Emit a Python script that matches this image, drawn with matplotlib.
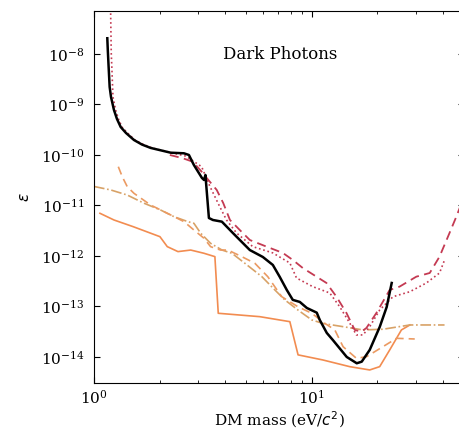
import matplotlib
matplotlib.use("Agg")
import matplotlib.pyplot as plt
import numpy as np

# ---- data ----
black_m = [1.151, 1.157, 1.166, 1.180, 1.197, 1.235, 1.275, 1.326, 1.402, 1.526, 1.660, 1.820, 2.249, 2.587,
           2.728, 2.875, 3.13, 3.20, 3.248, 3.37, 3.515, 3.865, 4.342, 4.674, 5.195, 5.96, 6.625, 7.13, 7.68,
           8.18, 8.81, 9.49, 10.54, 10.88, 11.72, 12.49, 14.47, 16.09, 16.96, 18.45, 20.51, 22.08, 23.28]
black_e = [2.05e-8, 1.2e-8, 6.05e-9, 2.22e-9, 1.41e-9, 7.78e-10, 5.16e-10, 3.58e-10, 2.73e-10, 1.98e-10,
           1.61e-10, 1.38e-10, 1.11e-10, 1.08e-10, 1.0e-10, 6.34e-11, 3.51e-11, 3.2e-11, 4.02e-11, 5.65e-12,
           5.16e-12, 4.78e-12, 2.85e-12, 2.07e-12, 1.31e-12, 9.55e-13, 6.64e-13, 3.84e-13, 2.12e-13,
           1.35e-13, 1.23e-13, 9.34e-14, 7.54e-14, 5.41e-14, 2.99e-14, 2.17e-14, 1.0e-14, 7.5e-15, 8.07e-15,
           1.38e-14, 3.93e-14, 9.77e-14, 2.92e-13]

red_dot_m = [1.19, 1.20, 1.209, 1.222, 1.257, 1.295, 1.344, 1.424, 1.542, 1.687, 1.845, 2.28, 2.64, 3.12,
             3.41, 3.78, 4.06, 4.515, 5.36, 6.62, 7.93, 8.51, 10.1, 12.09, 13.43, 14.93, 16.03, 17.18,
             18.45, 20.51, 23.6, 28.2, 33.6, 38.6, 40.7]
red_dot_e = [1.17e-7, 1.05e-8, 4.82e-9, 1.41e-9, 7.78e-10, 5.16e-10, 3.58e-10, 2.73e-10, 1.98e-10, 1.61e-10,
             1.38e-10, 1.1e-10, 9.5e-11, 5.86e-11, 2.36e-11, 9.46e-12, 5.16e-12, 2.85e-12, 1.53e-12,
             1.15e-12, 7.26e-13, 3.66e-13, 2.47e-13, 1.85e-13, 9.9e-14, 4.71e-14, 2.73e-14, 2.73e-14,
             3.98e-14, 8.53e-14, 1.56e-13, 1.96e-13, 2.92e-13, 4.6e-13, 8.3e-13]

red_dash_m = [2.23, 2.56, 2.84, 3.16, 3.30, 3.66, 3.92, 4.21, 4.67, 5.195, 6.2, 7.36, 8.18, 9.09, 10.51,
              11.68, 12.98, 14.43, 15.75, 16.9, 17.82, 19.8, 22.78, 25.3, 30.2, 34.8, 38.6, 42.9, 46.1, 49.8]
red_dash_e = [1.0e-10, 8.6e-11, 7.36e-11, 4.4e-11, 3.46e-11, 2.03e-11, 1.12e-11, 5.16e-12, 3.27e-12,
              2.07e-12, 1.53e-12, 1.15e-12, 8.34e-13, 5.78e-13, 3.89e-13, 2.92e-13, 1.56e-13, 7.43e-14,
              3.43e-14, 3.17e-14, 3.75e-14, 7.43e-14, 2.12e-13, 2.47e-13, 3.89e-13, 4.6e-13, 9.7e-13,
              2.85e-12, 6.0e-12, 1.41e-11]

orange_solid_m = [1.065, 1.235, 1.514, 2.008, 2.17, 2.43, 2.78, 3.20, 3.59, 3.72, 5.77, 7.93, 8.65, 11.23,
                  14.93, 18.45, 20.5, 22.8, 25.8, 28.2]
orange_solid_e = [7.0e-12, 5.16e-12, 3.8e-12, 2.41e-12, 1.53e-12, 1.22e-12, 1.31e-12, 1.13e-12, 9.7e-13,
                  7.33e-14, 6.28e-14, 5.0e-14, 1.1e-14, 8.73e-15, 6.43e-15, 5.53e-15, 6.43e-15, 1.38e-14,
                  3.43e-14, 4.3e-14]

orange_dashdot_m = [1.0, 1.193, 1.421, 1.695, 2.02, 2.33, 2.70, 2.875, 3.09, 3.43, 3.87, 4.30, 4.93, 5.90,
                    6.77, 7.52, 8.63, 10.0, 11.27, 13.92, 17.18, 21.23, 28.2, 40.7]
orange_dashdot_e = [2.38e-11, 2.03e-11, 1.61e-11, 1.11e-11, 8.15e-12, 6.0e-12, 4.78e-12, 4.44e-12, 2.82e-12,
                    1.78e-12, 1.31e-12, 1.13e-12, 7.16e-13, 3.89e-13, 2.12e-13, 1.35e-13, 8.53e-14, 5.41e-14,
                    4.6e-14, 3.98e-14, 3.43e-14, 3.54e-14, 4.3e-14, 4.3e-14]

orange_dash_m = [1.293, 1.348, 1.421, 1.526, 1.82, 2.25, 2.59, 2.875, 3.20, 3.43, 3.81, 4.12, 4.77, 5.48,
                 6.28, 7.28, 8.63, 10.0, 11.47, 12.76, 13.92, 16.03, 17.82, 21.23, 24.5, 29.7]
orange_dash_e = [5.86e-11, 3.72e-11, 2.36e-11, 1.74e-11, 1.02e-11, 6.49e-12, 4.78e-12, 3.27e-12, 2.24e-12,
                 1.53e-12, 1.31e-12, 1.31e-12, 9.7e-13, 7.16e-13, 3.89e-13, 1.56e-13, 9.9e-14, 7.33e-14,
                 4.65e-14, 3.43e-14, 1.6e-14, 9.4e-15, 1.01e-14, 1.6e-14, 2.34e-14, 2.27e-14]

# ---- figure ----
plt.rcParams['font.family'] = 'DejaVu Serif'
plt.rcParams['mathtext.fontset'] = 'dejavusans'

fig = plt.figure(figsize=(4.6, 4.33), dpi=100)
ax = fig.add_axes([94 / 460, 50 / 433, 370 / 460, 372 / 433])

RED = '#c43a52'
ax.plot(orange_solid_m, orange_solid_e, '-', color='#f28c50', lw=1.2)
ax.plot(orange_dashdot_m, orange_dashdot_e, '-.', color='#d8a267', lw=1.2)
ax.plot(orange_dash_m, orange_dash_e, '--', color='#eb9a62', lw=1.2, dashes=(5, 3))
ax.plot(red_dot_m, red_dot_e, ':', color=RED, lw=1.2)
ax.plot(red_dash_m, red_dash_e, '--', color=RED, lw=1.3, dashes=(5, 3))
ax.plot(black_m, black_e, '-', color='black', lw=1.8)

ax.set_xscale('log')
ax.set_yscale('log')
ax.set_xlim(1, 50)
ax.set_ylim(3.05e-15, 7.1e-8)
ax.yaxis.set_major_locator(matplotlib.ticker.LogLocator(base=10, numticks=20))
ax.yaxis.set_minor_locator(matplotlib.ticker.NullLocator())

ax.tick_params(which='both', direction='in', top=True, right=True, labelsize=11)
ax.tick_params(which='major', length=4)
ax.tick_params(axis='y', which='major', pad=7)
ax.tick_params(axis='x', which='major', pad=4)
ax.tick_params(which='minor', length=2.5)

ax.set_xlabel(r'DM mass (eV/$c^2$)', fontsize=11, labelpad=2)
ax.set_ylabel(r'$\epsilon$', fontsize=11, labelpad=6)
ax.text(0.503, 0.884, 'Dark Photons', transform=ax.transAxes, fontsize=12, ha='center', va='center')

fig.savefig('out.png', dpi=100)
